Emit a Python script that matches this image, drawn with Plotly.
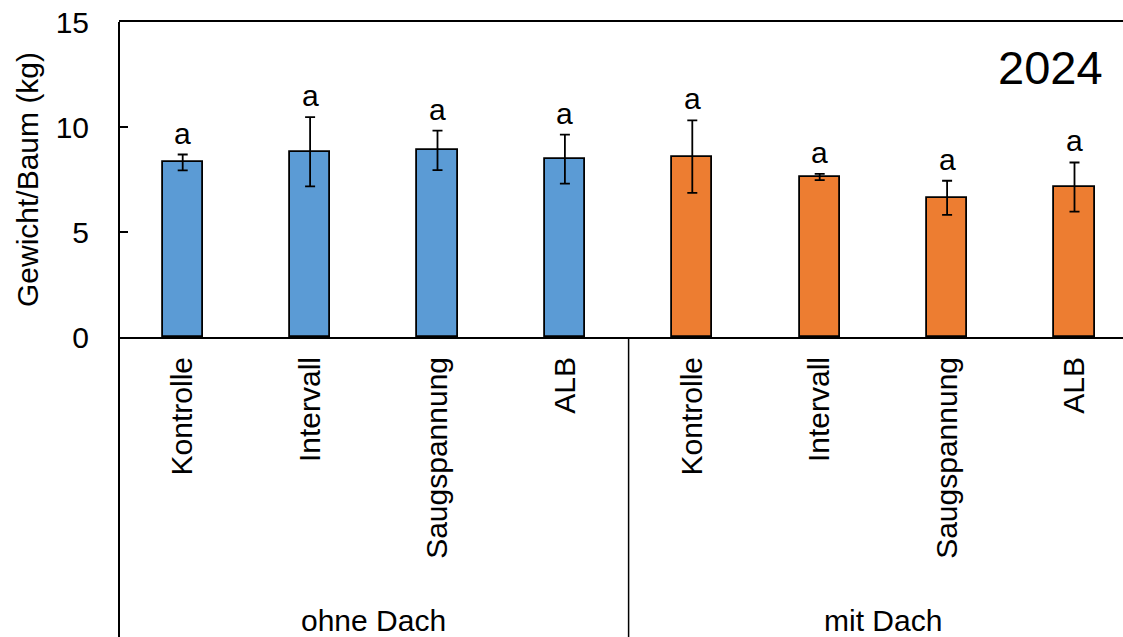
import plotly.graph_objects as go

# ---- data ----
groups = ["ohne Dach", "mit Dach"]
treatments = ["Kontrolle", "Intervall", "Saugspannung", "ALB"]
ohne_means = [8.31, 8.82, 8.89, 8.47]
ohne_err = [0.38, 1.65, 0.94, 1.17]
mit_means = [8.59, 7.62, 6.63, 7.14]
mit_err = [1.73, 0.15, 0.81, 1.17]
letters_ohne = ["a", "a", "a", "a"]
letters_mit = ["a", "a", "a", "a"]
year_label = "2024"
y_title = "Gewicht/Baum (kg)"
y_ticks = [0, 5, 10, 15]

FONT = "Liberation Sans, Arial, sans-serif"
W, H = 1123, 637
ML, MR, MT = 119, 0, 22
PLOT_H = 315
MB = H - MT - PLOT_H

n = len(treatments)
x_ohne = list(range(n))
x_mit = list(range(n, 2 * n))

fig = go.Figure()
for xs, means, errs, color in [
    (x_ohne, ohne_means, ohne_err, "#5B9BD5"),
    (x_mit, mit_means, mit_err, "#ED7D31"),
]:
    fig.add_trace(go.Bar(
        x=xs, y=means, width=0.317,
        marker=dict(color=color, line=dict(color="black", width=1.8)),
        error_y=dict(type="data", array=errs, visible=True, color="black",
                     thickness=1.8, width=5),
        showlegend=False,
    ))

# significance letters
for xs, means, errs, lets in [
    (x_ohne, ohne_means, ohne_err, letters_ohne),
    (x_mit, mit_means, mit_err, letters_mit),
]:
    for xi, m, e, l in zip(xs, means, errs, lets):
        fig.add_annotation(x=xi, y=m + e, text=l, showarrow=False,
                           yanchor="bottom", yshift=3,
                           font=dict(size=30, family=FONT, color="black"))

plot_w = W - ML - MR
bottom_paper = -(MB + 10) / PLOT_H

# left axis line extended downward and group divider
fig.add_shape(type="line", xref="paper", yref="paper", x0=0, x1=0,
              y0=1, y1=bottom_paper, line=dict(color="black", width=2))
fig.add_shape(type="line", xref="x", yref="paper", x0=n - 0.5, x1=n - 0.5,
              y0=0, y1=bottom_paper, line=dict(color="black", width=1.5))

# group labels
for gi, g in enumerate(groups):
    fig.add_annotation(x=gi * n + (n - 1) / 2, xref="x", y=(337 - 620) / PLOT_H,
                       yref="paper", text=g, showarrow=False, yanchor="middle",
                       font=dict(size=30, family=FONT, color="black"))

# year label
fig.add_annotation(x=(1105 - ML) / plot_w, xref="paper", y=(337 - 67) / PLOT_H,
                   yref="paper", text=year_label, showarrow=False,
                   xanchor="right", yanchor="middle",
                   font=dict(size=47, family=FONT, color="black"))

x_all = x_ohne + x_mit
fig.update_layout(
    width=W, height=H,
    margin=dict(l=ML, r=MR, t=MT, b=MB, pad=0),
    plot_bgcolor="white", paper_bgcolor="white",
    font=dict(family=FONT, size=30, color="black"),
    bargap=0,
    xaxis=dict(
        tickmode="array", tickvals=x_all, ticktext=treatments + treatments,
        tickangle=-90, range=[-0.5, plot_w / 127.4 - 0.5],
        showline=True, linecolor="black", linewidth=2, mirror=True,
        ticks="", showgrid=False, zeroline=False,
        tickfont=dict(size=30, family=FONT, color="black"),
        ticklabelstandoff=6,
    ),
    yaxis=dict(
        range=[0, 15], tickvals=y_ticks, ticks="inside", ticklen=9,
        tickwidth=1.5, tickcolor="black",
        showline=False, showgrid=False, zeroline=False,
        tickfont=dict(size=30, family=FONT, color="black"),
        ticklabelstandoff=29,
        title=dict(text=y_title, font=dict(size=30, family=FONT, color="black"),
                   standoff=8),
    ),
)

fig.write_html(
    "out.html",
    config={"displayModeBar": False},
    post_script="document.body.style.margin='0';document.body.style.overflow='hidden';",
)
